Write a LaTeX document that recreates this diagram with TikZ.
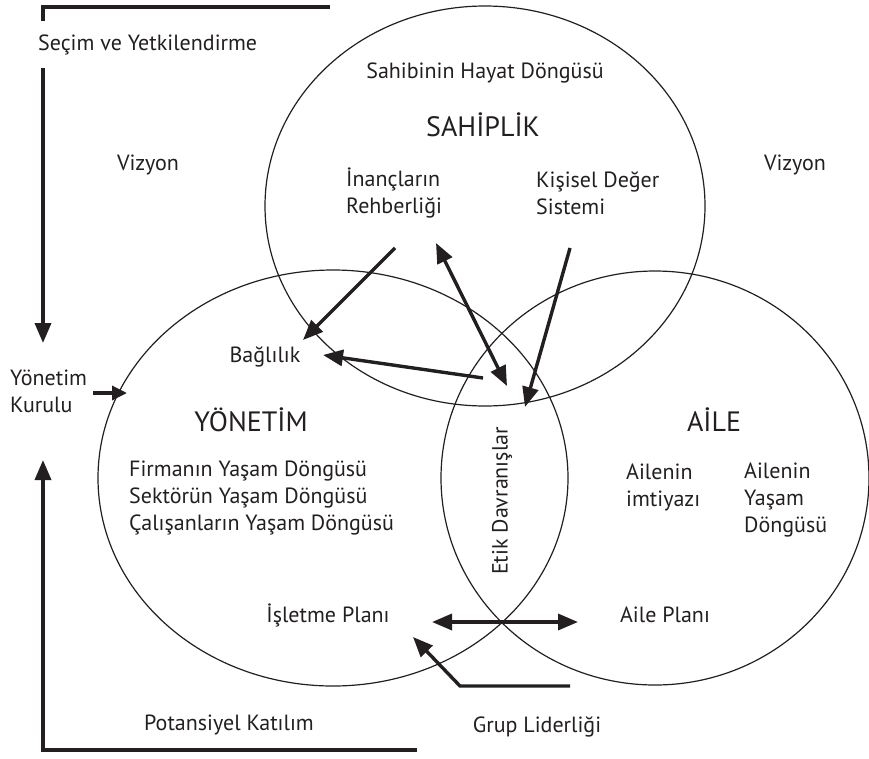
\documentclass[tikz,border=0pt]{standalone}
\usepackage{fontspec}
\setmainfont{PT Sans}
\usetikzlibrary{arrows.meta}
\definecolor{ink}{HTML}{231F20}
\tikzset{
  lbl/.style={text=ink, font=\fontsize{22}{27}\selectfont, inner sep=0pt},
  big/.style={text=ink, font=\fontsize{28}{32}\selectfont, inner sep=0pt},
  ring/.style={draw=ink, line width=1.2pt},
  bar/.style={draw=ink, line width=3.6pt},
  arr/.style={draw=ink, line width=3.4pt, -{Triangle[length=20pt,width=16pt]}},
  darr/.style={draw=ink, line width=3.4pt, {Triangle[length=20pt,width=16pt]}-{Triangle[length=20pt,width=16pt]}},
  sarr/.style={draw=ink, line width=3.4pt, -{Triangle[length=15pt,width=14pt]}}
}
\begin{document}
\begin{tikzpicture}[x=1pt,y=-1pt]
\useasboundingbox (0,0) rectangle (869,758);
% ellipses
\draw[ring] (485,206) ellipse [x radius=220, y radius=200];
\draw[ring] (333,478) ellipse [x radius=235, y radius=208];
\draw[ring] (655,478) ellipse [x radius=214, y radius=207];
% texts
\node[lbl, anchor=west] (secim) at (38,45) {Seçim ve Yetkilendirme};
\node[lbl] (vizL) at (148,165) {Vizyon};
\node[lbl] (vizR) at (795,165) {Vizyon};
\node[lbl, anchor=west, align=left] (yk) at (10,391) {Yönetim\\Kurulu};
\node[lbl] (sahibin) at (485,73) {Sahibinin Hayat Döngüsü};
\node[big] (sahiplik) at (483,125) {SAHİPLİK};
\node[lbl, anchor=west, align=left] (inanc) at (346,193) {İnançların\\Rehberliği};
\node[lbl, anchor=west, align=left] (kisisel) at (536,193) {Kişisel Değer\\Sistemi};
\node[lbl] (baglilik) at (265,357) {Bağlılık};
\node[big] (yonetim) at (251,420) {YÖNETİM};
\node[lbl, anchor=west, align=left] (firma) at (129,498) {Firmanın Yaşam Döngüsü\\Sektörün Yaşam Döngüsü\\Çalışanların Yaşam Döngüsü};
\node[lbl] (isletme) at (328,615) {İşletme Planı};
\node[big] (aile) at (714,420) {AİLE};
\node[lbl, anchor=west, align=left] (imtiyaz) at (626,487) {Ailenin\\imtiyazı};
\node[lbl, anchor=west, align=left] (ayd) at (744,500) {Ailenin\\Yaşam\\Döngüsü};
\node[lbl] (aileplani) at (665,615) {Aile Planı};
\node[lbl, rotate=90] (etik) at (502,501) {Etik Davranışlar};
\node[lbl] (grup) at (537,727) {Grup Liderliği};
\node[lbl] (potans) at (229,725) {Potansiyel Katılım};
% bracket
\coordinate (t0) at (43,21);
\coordinate (t1) at (43,7);
\coordinate (t2) at (330,7);
\coordinate (t3) at (43,68);
\coordinate (t4) at (43,343);
\coordinate (b0) at (417,750);
\coordinate (b1) at (43,750);
\coordinate (b2) at (43,460);
\draw[bar] (t0) -- (t1) -- (t2);
\draw[bar, -{Triangle[length=20pt,width=16pt]}] (t3) -- (t4);
\draw[bar, -{Triangle[length=20pt,width=16pt]}] (b0) -- (b1) -- (b2);
% Yonetim Kurulu arrow
\coordinate (yk1) at (93,393);
\coordinate (yk2) at (127,393);
\draw[sarr] (yk1) -- (yk2);
% inner arrows
\coordinate (a1s) at (395,248);
\coordinate (a1e) at (303,340);
\draw[arr] (a1s) -- (a1e);
\coordinate (a2s) at (483,378);
\coordinate (a2e) at (323,355);
\draw[arr] (a2s) -- (a2e);
\coordinate (a3s) at (436,243);
\coordinate (a3e) at (507,386);
\draw[darr] (a3s) -- (a3e);
\coordinate (a4s) at (570,248);
\coordinate (a4e) at (525,407);
\draw[arr] (a4s) -- (a4e);
\coordinate (h1) at (432,622);
\coordinate (h2) at (578,622);
\draw[darr] (h1) -- (h2);
\coordinate (g0) at (570,686);
\coordinate (g1) at (460,686);
\coordinate (g2) at (413,637);
\draw[arr] (g0) -- (g1) -- (g2);
\end{tikzpicture}
\end{document}
